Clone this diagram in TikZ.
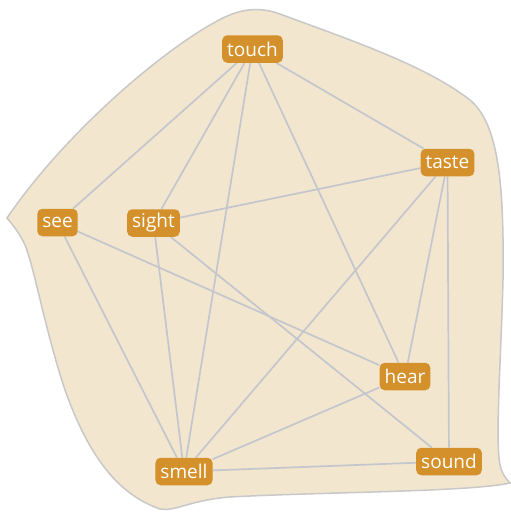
\documentclass[tikz,border=0pt]{standalone}
\usepackage{fontspec}
\setmainfont{Open Sans}
\usetikzlibrary{backgrounds}
\definecolor{blobfill}{HTML}{F2E6CF}
\definecolor{blobline}{HTML}{C8C8C8}
\definecolor{edgecol}{HTML}{C4C6CD}
\definecolor{nodefill}{HTML}{D4912B}
\begin{document}
\begin{tikzpicture}[x=1pt,y=-1pt,
  word/.style={fill=nodefill, text=white, rounded corners=5pt, minimum height=27.5pt,
    inner xsep=5pt, inner ysep=0pt, font=\fontsize{19}{19}\selectfont},
  link/.style={draw=edgecol, line width=1.7pt}]
\useasboundingbox (0,0) rectangle (511,512);
\node[word] (touch) at (252.5,49) {touch};
\node[word] (taste) at (447.5,162.5) {taste};
\node[word] (see) at (57.5,222.5) {see};
\node[word] (sight) at (153.5,223) {sight};
\node[word] (hear) at (405,376.5) {hear};
\node[word] (sound) at (449,461.5) {sound};
\node[word] (smell) at (184,471.5) {smell};
\begin{pgfonlayer}{background}
\path[fill=blobfill, draw=blobline, line width=1.5pt]
  (7,218) .. controls (60,140) and (150,60) .. (210,25)
  .. controls (235,10) and (255,5) .. (280,14)
  .. controls (350,40) and (425,65) .. (470,100)
  .. controls (500,125) and (504,190) .. (503,280)
  .. controls (501,360) and (495,440) .. (500,465)
  .. controls (503,478) and (510,482) .. (510,483)
  .. controls (470,492) and (320,492) .. (230,497)
  .. controls (190,500) and (175,512) .. (160,509)
  .. controls (120,495) and (90,460) .. (65,390)
  .. controls (45,330) and (35,270) .. (25,245)
  .. controls (18,230) and (10,222) .. (7,218) -- cycle;
\foreach \a/\b in {touch/see, touch/sight, touch/smell, touch/hear, touch/taste,
  taste/sight, taste/smell, taste/hear, taste/sound,
  see/hear, see/smell, sight/smell, sight/sound, hear/smell, smell/sound}
  \draw[link] (\a) -- (\b);
\end{pgfonlayer}
\end{tikzpicture}
\end{document}
